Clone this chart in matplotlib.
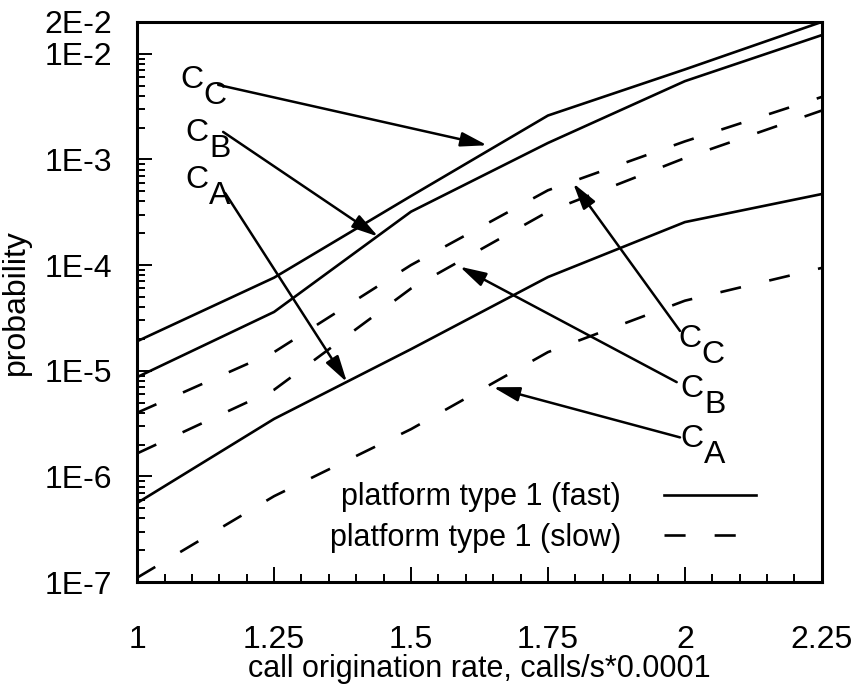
import numpy as np
import matplotlib.pyplot as plt
from matplotlib.ticker import FixedLocator, LogLocator, MultipleLocator, NullFormatter

plt.rcParams['font.family'] = ['Liberation Sans', 'DejaVu Sans']
plt.rcParams['font.size'] = 22

# call origination rate (calls/s * 0.0001)
rate = [1.0, 1.25, 1.5, 1.75, 2.0, 2.25]

# blocking probability, platform type 1 (fast)
fast_cc = [1.9e-5, 7.6e-5, 4.5e-4, 2.6e-3, 7.1e-3, 2.0e-2]
fast_cb = [8.7e-6, 3.6e-5, 3.2e-4, 1.43e-3, 5.5e-3, 1.5e-2]
fast_ca = [5.6e-7, 3.5e-6, 1.6e-5, 7.7e-5, 2.55e-4, 4.7e-4]

# blocking probability, platform type 1 (slow)
slow_cc = [4.0e-6, 1.5e-5, 1.0e-4, 5.1e-4, 1.48e-3, 3.9e-3]
slow_cb = [1.65e-6, 6.6e-6, 6.0e-5, 3.2e-4, 1.03e-3, 2.9e-3]
slow_ca = [1.1e-7, 6.5e-7, 2.8e-6, 1.5e-5, 4.6e-5, 9.4e-5]

ytick_vals = [1e-7, 1e-6, 1e-5, 1e-4, 1e-3, 1e-2, 2e-2]
ytick_labels = ['1E-7', '1E-6', '1E-5', '1E-4', '1E-3', '1E-2', '2E-2']
xtick_vals = [1, 1.25, 1.5, 1.75, 2, 2.25]
xtick_labels = ['1', '1.25', '1.5', '1.75', '2', '2.25']

# curve labels: (subscript, text position, arrow start, arrow tip)
left_labels = [
    ('C', (1.100, 5.66e-3), (1.148, 5.07e-3), (1.639, 1.36e-3)),
    ('B', (1.109, 1.77e-3), (1.157, 1.82e-3), (1.440, 1.86e-4)),
    ('A', (1.109, 6.34e-4), (1.161, 4.78e-4), (1.383, 7.8e-6)),
]
right_labels = [
    ('C', (2.009, 2.0e-5), (1.991, 2.38e-5), (1.796, 5.94e-4)),
    ('B', (2.013, 6.68e-6), (1.985, 7.8e-6), (1.589, 9.66e-5)),
    ('A', (2.013, 2.24e-6), (1.991, 2.34e-6), (1.650, 6.98e-6)),
]

fig = plt.figure(figsize=(8.57, 6.84), dpi=100)
ax = fig.add_axes([0.160, 0.149, 0.799, 0.819])

lw = 1.9
dash = (0, (8, 11))
ax.plot(rate, fast_cc, color='k', lw=lw, label='platform type 1 (fast)')
ax.plot(rate, fast_cb, color='k', lw=lw)
ax.plot(rate, fast_ca, color='k', lw=lw)
ax.plot(rate, slow_cc, color='k', lw=lw, ls=dash, label='platform type 1 (slow)')
ax.plot(rate, slow_cb, color='k', lw=lw, ls=dash)
ax.plot(rate, slow_ca, color='k', lw=lw, ls=dash)

ax.set_yscale('log')
ax.set_xlim(1, 2.25)
ax.set_ylim(1e-7, 2e-2)

ax.yaxis.set_major_locator(FixedLocator(ytick_vals))
ax.set_yticklabels(ytick_labels)
ax.yaxis.set_minor_locator(LogLocator(base=10, subs=np.arange(2, 10)))
ax.yaxis.set_minor_formatter(NullFormatter())
ax.set_xticks(xtick_vals)
ax.set_xticklabels(xtick_labels)
ax.xaxis.set_minor_locator(MultipleLocator(0.05))

ax.tick_params(which='both', direction='in', top=False, right=False, width=1.4,
               labelsize=23)
ax.tick_params(which='major', length=11)
ax.tick_params(which='minor', length=5.5)
ax.tick_params(axis='x', which='major', pad=31)
ax.tick_params(axis='y', which='major', pad=18)
for side in ax.spines.values():
    side.set_linewidth(2.2)

ax.set_xlabel('call origination rate, calls/s*0.0001', labelpad=-1)
ax.set_ylabel('probability', fontsize=23, labelpad=10)

arrow = dict(arrowstyle='-|>,head_length=0.8,head_width=0.22', color='k',
             lw=1.8, mutation_scale=20, shrinkA=0, shrinkB=0)
for sub, txt, start, tip in left_labels + right_labels:
    ax.annotate('', xy=tip, xytext=start, arrowprops=arrow)
    ax.text(txt[0], txt[1], 'C', ha='center', va='center', fontsize=23)
    ax.annotate(sub, xy=txt, xytext=(23, -16), textcoords='offset pixels',
                ha='center', va='center', fontsize=23)

ax.legend(loc='lower right', bbox_to_anchor=(0.921, 0.03), frameon=False,
          markerfirst=False, handlelength=3.0, handletextpad=1.4,
          labelspacing=0.35, borderaxespad=0)

fig.savefig('out.png', dpi=100)
